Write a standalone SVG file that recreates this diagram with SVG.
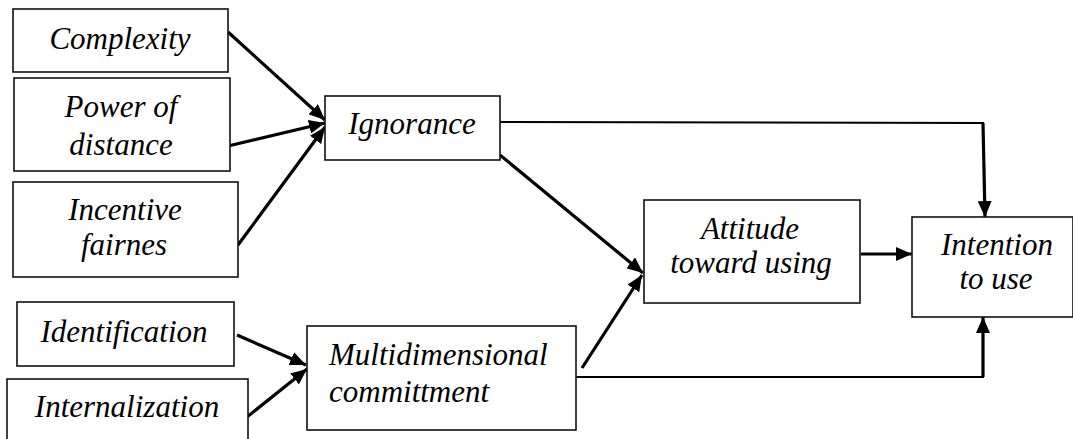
<svg xmlns="http://www.w3.org/2000/svg" width="1073" height="439" viewBox="0 0 1073 439">
<style>
.box{fill:#fff;stroke:#111;stroke-width:1.6}
.t{font-family:'Liberation Serif','DejaVu Serif',serif;font-style:italic;font-size:31px;fill:#000}
.c{text-anchor:middle}
.thick{fill:none;stroke:#000;stroke-width:3.2}
.thin{fill:none;stroke:#000;stroke-width:2}
</style>
<defs>
<marker id="ah" markerUnits="userSpaceOnUse" markerWidth="16" markerHeight="14" refX="16" refY="7" orient="auto">
<path d="M0,0 L16,7 L0,14 Z" fill="#000"/>
</marker>
</defs>
<rect width="1073" height="439" fill="#fff"/>
<g id="connectors">
<line class="thick" x1="228" y1="32" x2="325" y2="120" marker-end="url(#ah)"/>
<line class="thick" x1="228" y1="146" x2="325" y2="123" marker-end="url(#ah)"/>
<line class="thick" x1="238" y1="245" x2="325" y2="127" marker-end="url(#ah)"/>
<line class="thick" x1="500" y1="155" x2="643" y2="273" marker-end="url(#ah)"/>
<line class="thick" x1="582" y1="368" x2="642" y2="275" marker-end="url(#ah)"/>
<line class="thick" x1="861" y1="254" x2="912" y2="254" marker-end="url(#ah)"/>
<polyline class="thin" points="500,122 984,123"/>
<line class="thick" x1="983" y1="123" x2="985" y2="217" marker-end="url(#ah)"/>
<polyline class="thin" points="576,377 984,377"/>
<line class="thick" x1="983" y1="377" x2="983" y2="317" marker-end="url(#ah)"/>
<line class="thick" x1="237" y1="335" x2="306" y2="365" marker-end="url(#ah)"/>
<line class="thick" x1="247" y1="417" x2="307" y2="369" marker-end="url(#ah)"/>
</g>
<g id="complexity"><rect class="box" x="13" y="9" width="215" height="63"/><text class="t c" x="120" y="49">Complexity</text></g>
<g id="power"><rect class="box" x="14" y="78" width="216" height="93"/><text class="t c" x="121" y="117">Power of</text><text class="t c" x="121" y="155">distance</text></g>
<g id="incentive"><rect class="box" x="13" y="182" width="225" height="95"/><text class="t c" x="125" y="220">Incentive</text><text class="t c" x="124" y="255">fairnes</text></g>
<g id="ignorance"><rect class="box" x="325" y="96" width="175" height="64"/><text class="t c" x="412" y="134">Ignorance</text></g>
<g id="attitude"><rect class="box" x="644" y="200" width="216" height="103"/><text class="t c" x="750" y="239">Attitude</text><text class="t c" x="751" y="273">toward using</text></g>
<g id="intention"><rect class="box" x="912" y="217" width="161" height="100"/><text class="t c" x="997" y="255">Intention</text><text class="t c" x="996" y="289">to use</text></g>
<g id="identification"><rect class="box" x="17" y="302" width="217" height="64"/><text class="t c" x="124" y="342">Identification</text></g>
<g id="internalization"><rect class="box" x="7" y="379" width="241" height="70"/><text class="t c" x="127" y="417">Internalization</text></g>
<g id="multidimensional"><rect class="box" x="307" y="326" width="269" height="104"/><text class="t" x="329" y="365">Multidimensional</text><text class="t" x="329" y="402">committment</text></g>
</svg>
